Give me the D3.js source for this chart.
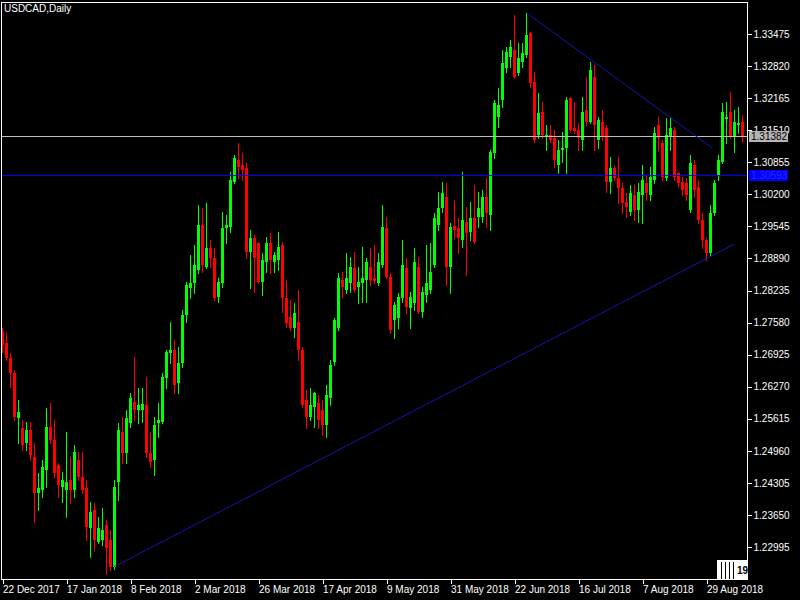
<!DOCTYPE html>
<html>
<head>
<meta charset="utf-8">
<script src="https://cdn.jsdelivr.net/npm/d3@7"></script>
<style>
  html, body { margin: 0; padding: 0; background: #000; }
  svg { display: block; }
  text { font-family: "Liberation Sans", Arial, sans-serif; font-size: 10px; }
</style>
</head>
<body>
<svg id="chart" width="800" height="600"></svg>
<script>
// USDCAD daily, 22 Dec 2017 .. 11 Sep 2018 (one entry per bar)
let open = [1.2739, 1.2716, 1.2686, 1.2655, 1.2563, 1.2543, 1.2512, 1.2539, 1.2483, 1.2410,
    1.2416, 1.2457, 1.2545, 1.2518, 1.2467, 1.2422, 1.2416, 1.2436, 1.2416, 1.2477,
    1.2442, 1.2420, 1.2338, 1.2375, 1.2310, 1.2314, 1.2344, 1.2314, 1.2259, 1.2432,
    1.2534, 1.2492, 1.2553, 1.2596, 1.2579, 1.2579, 1.2590, 1.2492, 1.2477, 1.2553,
    1.2555, 1.2645, 1.2696, 1.2702, 1.2635, 1.2675, 1.2773, 1.2829, 1.2839, 1.2865,
    1.2957, 1.2872, 1.2910, 1.2890, 1.2810, 1.2839, 1.2951, 1.2953, 1.3045, 1.3090,
    1.3080, 1.3074, 1.2902, 1.2931, 1.2921, 1.2841, 1.2882, 1.2921, 1.2882, 1.2886,
    1.2916, 1.2808, 1.2769, 1.2747, 1.2759, 1.2702, 1.2600, 1.2565, 1.2585, 1.2594,
    1.2579, 1.2549, 1.2604, 1.2677, 1.2747, 1.2845, 1.2825, 1.2839, 1.2869, 1.2831,
    1.2839, 1.2845, 1.2872, 1.2849, 1.2839, 1.2876, 1.2951, 1.2851, 1.2763, 1.2767,
    1.2808, 1.2869, 1.2788, 1.2798, 1.2872, 1.2780, 1.2814, 1.2825, 1.2876, 1.2957,
    1.2992, 1.3015, 1.2872, 1.2955, 1.2951, 1.2927, 1.2963, 1.2943, 1.2972, 1.2974,
    1.2974, 1.3015, 1.2978, 1.3104, 1.3178, 1.3213, 1.3278, 1.3301, 1.3315, 1.3268,
    1.3290, 1.3305, 1.3350, 1.3249, 1.3141, 1.3188, 1.3137, 1.3141, 1.3135, 1.3080,
    1.3111, 1.3115, 1.3217, 1.3155, 1.3151, 1.3131, 1.3192, 1.3168, 1.3260, 1.3131,
    1.3168, 1.3155, 1.3045, 1.3074, 1.3053, 1.3033, 1.3004, 1.2984, 1.3019, 1.2988,
    1.3019, 1.3043, 1.3019, 1.3049, 1.3162, 1.3125, 1.3053, 1.3137, 1.3151, 1.3064,
    1.3045, 1.3043, 1.2988, 1.3080, 1.3035, 1.2968, 1.2927, 1.2900, 1.2982, 1.3059,
    1.3086, 1.3174, 1.3188, 1.3137, 1.3162, 1.3168];

let high = [1.2747, 1.2737, 1.2696, 1.2661, 1.2600, 1.2559, 1.2555, 1.2555, 1.2512, 1.2451,
    1.2477, 1.2583, 1.2594, 1.2559, 1.2471, 1.2453, 1.2534, 1.2483, 1.2508, 1.2494,
    1.2494, 1.2436, 1.2391, 1.2389, 1.2361, 1.2379, 1.2355, 1.2334, 1.2436, 1.2553,
    1.2565, 1.2579, 1.2614, 1.2688, 1.2624, 1.2624, 1.2647, 1.2534, 1.2565, 1.2594,
    1.2655, 1.2702, 1.2759, 1.2722, 1.2708, 1.2784, 1.2841, 1.2896, 1.2916, 1.2998,
    1.2992, 1.3002, 1.2927, 1.2910, 1.2849, 1.2984, 1.2978, 1.3066, 1.3100, 1.3125,
    1.3104, 1.3084, 1.2947, 1.2937, 1.2923, 1.2900, 1.2933, 1.2941, 1.2902, 1.2943,
    1.2923, 1.2845, 1.2804, 1.2798, 1.2825, 1.2708, 1.2620, 1.2624, 1.2616, 1.2610,
    1.2600, 1.2630, 1.2682, 1.2767, 1.2859, 1.2861, 1.2900, 1.2892, 1.2902, 1.2872,
    1.2912, 1.2890, 1.2910, 1.2916, 1.2900, 1.2998, 1.2974, 1.2859, 1.2800, 1.2818,
    1.2927, 1.2890, 1.2820, 1.2910, 1.2892, 1.2831, 1.2916, 1.2921, 1.2982, 1.3025,
    1.3045, 1.3043, 1.2961, 1.3008, 1.2972, 1.3066, 1.2994, 1.3004, 1.3039, 1.3025,
    1.3029, 1.3053, 1.3111, 1.3213, 1.3237, 1.3315, 1.3321, 1.3335, 1.3386, 1.3329,
    1.3329, 1.3390, 1.3352, 1.3270, 1.3227, 1.3209, 1.3162, 1.3162, 1.3151, 1.3131,
    1.3147, 1.3219, 1.3219, 1.3209, 1.3166, 1.3219, 1.3260, 1.3290, 1.3284, 1.3178,
    1.3192, 1.3162, 1.3096, 1.3080, 1.3096, 1.3043, 1.3023, 1.3039, 1.3039, 1.3043,
    1.3080, 1.3059, 1.3076, 1.3158, 1.3178, 1.3131, 1.3176, 1.3176, 1.3158, 1.3066,
    1.3055, 1.3053, 1.3100, 1.3090, 1.3049, 1.2982, 1.2933, 1.2998, 1.3049, 1.3100,
    1.3207, 1.3209, 1.3229, 1.3192, 1.3198, 1.3182];

let low = [1.2698, 1.2682, 1.2626, 1.2559, 1.2512, 1.2498, 1.2498, 1.2477, 1.2351, 1.2375,
    1.2402, 1.2422, 1.2512, 1.2442, 1.2402, 1.2391, 1.2361, 1.2389, 1.2402, 1.2436,
    1.2410, 1.2314, 1.2279, 1.2293, 1.2308, 1.2304, 1.2244, 1.2252, 1.2255, 1.2395,
    1.2471, 1.2471, 1.2545, 1.2559, 1.2553, 1.2555, 1.2483, 1.2463, 1.2447, 1.2524,
    1.2553, 1.2624, 1.2675, 1.2614, 1.2614, 1.2667, 1.2759, 1.2808, 1.2818, 1.2859,
    1.2861, 1.2869, 1.2872, 1.2804, 1.2800, 1.2831, 1.2921, 1.2943, 1.3043, 1.3053,
    1.3049, 1.2890, 1.2829, 1.2820, 1.2839, 1.2814, 1.2861, 1.2859, 1.2861, 1.2865,
    1.2780, 1.2749, 1.2743, 1.2729, 1.2682, 1.2585, 1.2543, 1.2559, 1.2545, 1.2543,
    1.2528, 1.2524, 1.2590, 1.2671, 1.2743, 1.2810, 1.2818, 1.2820, 1.2820, 1.2798,
    1.2800, 1.2800, 1.2835, 1.2839, 1.2835, 1.2872, 1.2849, 1.2737, 1.2726, 1.2747,
    1.2800, 1.2778, 1.2747, 1.2784, 1.2778, 1.2769, 1.2800, 1.2818, 1.2872, 1.2947,
    1.2984, 1.2835, 1.2818, 1.2931, 1.2900, 1.2912, 1.2855, 1.2927, 1.2921, 1.2953,
    1.2963, 1.2953, 1.2947, 1.3094, 1.3158, 1.3198, 1.3270, 1.3280, 1.3258, 1.3264,
    1.3280, 1.3301, 1.3239, 1.3127, 1.3135, 1.3135, 1.3111, 1.3127, 1.3076, 1.3064,
    1.3086, 1.3064, 1.3147, 1.3145, 1.3111, 1.3111, 1.3162, 1.3166, 1.3111, 1.3115,
    1.3131, 1.3025, 1.3023, 1.3049, 1.3002, 1.2982, 1.2974, 1.2978, 1.2968, 1.2963,
    1.2961, 1.3008, 1.3008, 1.3043, 1.3111, 1.3049, 1.3049, 1.3111, 1.3049, 1.3035,
    1.3019, 1.3008, 1.2984, 1.3015, 1.2961, 1.2910, 1.2886, 1.2896, 1.2978, 1.3049,
    1.3084, 1.3125, 1.3135, 1.3106, 1.3145, 1.3127];

let close = [1.2712, 1.2686, 1.2655, 1.2565, 1.2575, 1.2508, 1.2539, 1.2487, 1.2410, 1.2420,
    1.2463, 1.2545, 1.2518, 1.2451, 1.2426, 1.2436, 1.2432, 1.2416, 1.2494, 1.2442,
    1.2416, 1.2340, 1.2371, 1.2314, 1.2338, 1.2334, 1.2297, 1.2259, 1.2422, 1.2539,
    1.2492, 1.2563, 1.2604, 1.2579, 1.2590, 1.2592, 1.2492, 1.2473, 1.2549, 1.2559,
    1.2647, 1.2698, 1.2702, 1.2630, 1.2675, 1.2773, 1.2835, 1.2839, 1.2876, 1.2957,
    1.2876, 1.2910, 1.2890, 1.2808, 1.2841, 1.2951, 1.2957, 1.3049, 1.3094, 1.3076,
    1.3070, 1.2902, 1.2931, 1.2890, 1.2841, 1.2886, 1.2921, 1.2886, 1.2896, 1.2912,
    1.2808, 1.2757, 1.2747, 1.2778, 1.2702, 1.2590, 1.2565, 1.2590, 1.2614, 1.2559,
    1.2549, 1.2610, 1.2671, 1.2763, 1.2849, 1.2831, 1.2849, 1.2872, 1.2825, 1.2841,
    1.2849, 1.2882, 1.2845, 1.2843, 1.2882, 1.2953, 1.2851, 1.2743, 1.2794, 1.2810,
    1.2876, 1.2790, 1.2810, 1.2882, 1.2780, 1.2820, 1.2839, 1.2861, 1.2972, 1.2992,
    1.3023, 1.2872, 1.2953, 1.2947, 1.2931, 1.2968, 1.2941, 1.2972, 1.2923, 1.2992,
    1.3015, 1.2982, 1.3106, 1.3207, 1.3202, 1.3288, 1.3311, 1.3321, 1.3260, 1.3299,
    1.3309, 1.3345, 1.3247, 1.3131, 1.3186, 1.3141, 1.3141, 1.3131, 1.3090, 1.3111,
    1.3115, 1.3213, 1.3151, 1.3149, 1.3135, 1.3188, 1.3168, 1.3274, 1.3162, 1.3172,
    1.3137, 1.3045, 1.3074, 1.3053, 1.3033, 1.3002, 1.2994, 1.3023, 1.2988, 1.3025,
    1.3049, 1.3023, 1.3055, 1.3145, 1.3135, 1.3055, 1.3141, 1.3155, 1.3055, 1.3043,
    1.3029, 1.3019, 1.3084, 1.3029, 1.2968, 1.2927, 1.2900, 1.2982, 1.3043, 1.3090,
    1.3188, 1.3178, 1.3137, 1.3168, 1.3166, 1.31382];

// time axis: bar index of each label
let dateIdx = [0, 16, 32, 48, 64, 80, 96, 112, 128, 144, 160, 176];
let dateLabels = ['22 Dec 2017', '17 Jan 2018', '8 Feb 2018', '2 Mar 2018', '26 Mar 2018', '17 Apr 2018',
    '9 May 2018', '31 May 2018', '22 Jun 2018', '16 Jul 2018', '7 Aug 2018', '29 Aug 2018'];

let priceTicks = [1.22995, 1.23650, 1.24305, 1.24960, 1.25615, 1.26270, 1.26925, 1.27580, 1.28235,
    1.28890, 1.29545, 1.30200, 1.30855, 1.31510, 1.32165, 1.32820, 1.33475];

// horizontal lines: current bid and a manual level
let hPrices = [1.31382, 1.30593];
let hColors = ['#c0c0c0', '#0000ff'];
let hLabelFill = ['#b4b4b4', '#0000ff'];
let hLabelText = ['#000000', '#2a2aff'];

// trend lines [bar index, price]
let trendFrom = [[28, 1.2259], [131.2, 1.3390]];
let trendTo = [[183, 1.2918], [177.5, 1.3115]];

let svg = d3.select('#chart');
let pLeft = 1, pRight = 747, pTop = 2, pBottom = 579;

svg.append('rect').attr('width', 800).attr('height', 600).attr('fill', '#000');

let x = d3.scaleLinear().domain([0, 185]).range([2, 742]);
let y = d3.scaleLinear().domain([1.22995, 1.33475]).range([547, 34]);

// candles
let bars = d3.range(open.length);
let cg = svg.append('g').attr('shape-rendering', 'crispEdges');

cg.selectAll('line.wick')
    .data(bars)
    .enter()
    .append('line')
    .attr('class', 'wick')
    .attr('x1', i => x(i) + 0.5)
    .attr('x2', i => x(i) + 0.5)
    .attr('y1', i => Math.round(y(high[i])))
    .attr('y2', i => Math.round(y(low[i])) + 1)
    .attr('stroke', i => close[i] > open[i] ? '#00ff00' : '#ff0000')
    .attr('stroke-width', 1);

cg.selectAll('rect.body')
    .data(bars)
    .enter()
    .append('rect')
    .attr('class', 'body')
    .attr('x', i => x(i) - 1)
    .attr('width', 3)
    .attr('y', i => Math.round(y(Math.max(open[i], close[i]))))
    .attr('height', i => Math.max(1, Math.round(y(Math.min(open[i], close[i]))) - Math.round(y(Math.max(open[i], close[i])))))
    .attr('fill', i => close[i] > open[i] ? '#00ff00' : '#ff0000');

// horizontal price lines
svg.selectAll('line.hl')
    .data(hPrices)
    .enter()
    .append('line')
    .attr('class', 'hl')
    .attr('x1', pLeft)
    .attr('x2', pRight)
    .attr('y1', d => Math.round(y(d)) + 0.5)
    .attr('y2', d => Math.round(y(d)) + 0.5)
    .attr('stroke', (d, i) => hColors[i])
    .attr('stroke-width', 1);

// trend lines
svg.selectAll('line.trend')
    .data(trendFrom)
    .enter()
    .append('line')
    .attr('class', 'trend')
    .attr('x1', d => x(d[0]))
    .attr('y1', d => y(d[1]))
    .attr('x2', (d, i) => x(trendTo[i][0]))
    .attr('y2', (d, i) => y(trendTo[i][1]))
    .attr('stroke', '#1414b4')
    .attr('stroke-width', 1);

// frame
svg.append('rect')
    .attr('x', pLeft + 0.5).attr('y', pTop + 0.5)
    .attr('width', pRight - pLeft).attr('height', pBottom - pTop)
    .attr('fill', 'none').attr('stroke', '#fff').attr('stroke-width', 1)
    .attr('shape-rendering', 'crispEdges');

// price axis
let yAxis = d3.axisRight(y).tickValues(priceTicks).tickSize(4).tickFormat(d3.format('.5f'));
let ya = svg.append('g').attr('transform', 'translate(' + (pRight + 0.5) + ',0)').call(yAxis);
ya.select('.domain').remove();
ya.selectAll('line').attr('stroke', '#fff').attr('shape-rendering', 'crispEdges');
ya.selectAll('text').attr('fill', '#fff').attr('x', 6)
    .style('font-family', '"Liberation Sans", Arial, sans-serif').style('font-size', '10px');

// time axis
let xAxis = d3.axisBottom(x).tickValues(dateIdx).tickSize(4).tickFormat((d, i) => dateLabels[i]);
let xa = svg.append('g').attr('transform', 'translate(0.5,' + (pBottom + 0.5) + ')').call(xAxis);
xa.select('.domain').remove();
xa.selectAll('line').attr('stroke', '#fff').attr('shape-rendering', 'crispEdges');
xa.selectAll('text').attr('fill', '#fff').attr('text-anchor', 'start').attr('x', 0).attr('y', 6)
    .style('font-family', '"Liberation Sans", Arial, sans-serif').style('font-size', '10px');

// price labels on the axis
let lg = svg.append('g');
hPrices.forEach((p, i) => {
    let py = Math.round(y(p));
    lg.append('rect')
        .attr('x', pRight + 2).attr('y', py - 5)
        .attr('width', 39).attr('height', 11)
        .attr('fill', hLabelFill[i]);
    lg.append('text')
        .attr('x', pRight + 4).attr('y', py + 4)
        .attr('fill', hLabelText[i])
        .text(d3.format('.5f')(p));
});

// symbol caption
svg.append('text').attr('x', 4).attr('y', 12).attr('fill', '#fff').text('USDCAD,Daily');

// small panel at the bottom right corner
let pg = svg.append('g').attr('shape-rendering', 'crispEdges');
pg.append('rect').attr('x', 717).attr('y', 560).attr('width', 30).attr('height', 19).attr('fill', '#fff');
[721, 725, 729, 733].forEach(px => {
    pg.append('line').attr('x1', px + 0.5).attr('x2', px + 0.5).attr('y1', 562).attr('y2', 579)
        .attr('stroke', '#000');
});
pg.append('text').attr('x', 737).attr('y', 574).attr('fill', '#000')
    .style('font-weight', 'bold').style('font-size', '10px').text('19');
</script>
</body>
</html>
